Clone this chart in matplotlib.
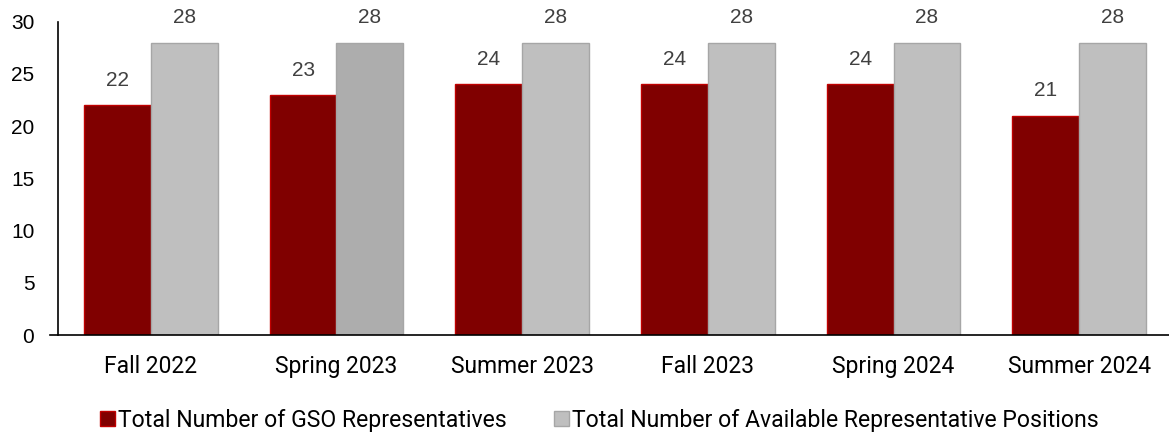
import matplotlib
matplotlib.use("Agg")
import matplotlib.pyplot as plt
import numpy as np
from matplotlib.patches import Patch

semesters = ["Fall 2022", "Spring 2023", "Summer 2023", "Fall 2023", "Spring 2024", "Summer 2024"]
representatives = [22, 23, 24, 24, 24, 21]
positions = [28, 28, 28, 28, 28, 28]
position_colors = ["#BFBFBF", "#ADADAD", "#BFBFBF", "#BFBFBF", "#BFBFBF", "#BFBFBF"]

RED = "#800000"
GRAY = "#BFBFBF"
LABEL_FONT = "Liberation Sans"
CAT_FONT = "Roboto"

fig = plt.figure(figsize=(11.69, 4.32), dpi=100)
ax = fig.add_axes([0.0496, 0.224, 0.953, 0.726])

x = np.arange(len(semesters))
w = 0.36
b1 = ax.bar(x - w / 2, representatives, w, color=RED, edgecolor="#C00000", linewidth=1)
b2 = ax.bar(x + w / 2, positions, w, color=position_colors, edgecolor="#A6A6A6", linewidth=1)

for bars in (b1, b2):
    for r in bars:
        ax.annotate(f"{r.get_height():.0f}", (r.get_x() + r.get_width() / 2, r.get_height()),
                    xytext=(0, 11), textcoords="offset points", ha="center", va="bottom",
                    fontsize=15, color="#404040", family=LABEL_FONT)

ax.set_xlim(-0.5, 5.5)
ax.set_ylim(0, 30)
ax.set_yticks(range(0, 31, 5))
ax.tick_params(axis="y", length=0, pad=17, labelsize=15)
ax.tick_params(axis="x", length=0, pad=14, labelsize=16.5)
for t in ax.get_yticklabels():
    t.set_family(LABEL_FONT)
ax.set_xticks(x)
ax.set_xticklabels(semesters, family=CAT_FONT)

for s in ("top", "right"):
    ax.spines[s].set_visible(False)
ax.spines["left"].set_linewidth(1.2)
ax.spines["bottom"].set_linewidth(1.2)
ax.spines["bottom"].set_bounds(-0.5 - 8 / 185, 5.5)

handles = [Patch(facecolor=RED, edgecolor="#C00000"), Patch(facecolor=GRAY, edgecolor="#A6A6A6")]
fig.legend(handles, ["Total Number of GSO Representatives", "Total Number of Available Representative Positions"],
           loc="center", bbox_to_anchor=(0.513, 0.027), ncol=2, frameon=False,
           prop={"family": CAT_FONT, "size": 16.6}, handlelength=0.65, handleheight=0.65,
           handletextpad=0.13, columnspacing=2.04, borderpad=0)

fig.savefig("out.png", dpi=100)
